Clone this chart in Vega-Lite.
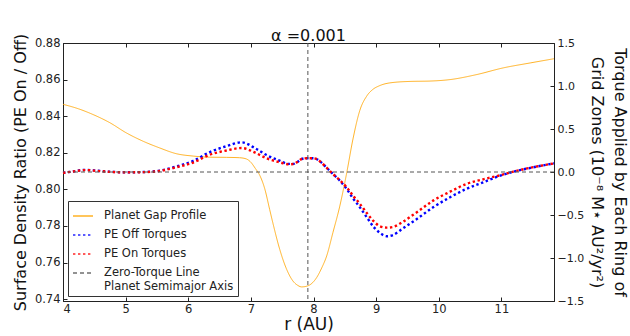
{
  "$schema": "https://vega.github.io/schema/vega-lite/v6.json",
  "width": 491,
  "height": 258,
  "autosize": {"type": "none"},
  "padding": {"left": 63, "top": 43, "right": 76, "bottom": 35},
  "title": {"text": "α =0.001", "font": "DejaVu Sans", "fontSize": 16, "fontWeight": "normal", "color": "#111", "offset": -11},
  "config": {
    "font": "DejaVu Sans",
    "view": {"stroke": "#222", "strokeWidth": 1},
    "axis": {"grid": false, "domainColor": "#222", "tickColor": "#222", "labelColor": "#222", "titleColor": "#111", "labelFont": "DejaVu Sans", "titleFont": "DejaVu Sans", "titleFontWeight": "normal", "labelFontSize": 11.5, "titleFontSize": 16, "tickSize": -4},
    "legend": {"orient": "bottom-left", "offset": 5, "strokeColor": "#333", "fillColor": "white", "padding": 4, "labelFont": "DejaVu Sans", "labelFontSize": 11.5, "labelColor": "#222", "symbolType": "stroke", "symbolSize": 400, "symbolStrokeWidth": 1.6, "labelOffset": 10, "rowPadding": 2}
  },
  "resolve": {"scale": {"y": "independent"}, "axis": {"x": "independent"}},
  "layer": [
    {
      "data": {"values": [
        {"series": "Planet Gap Profile", "r": 4.00, "v": 0.8465},
        {"series": "Planet Gap Profile", "r": 4.25, "v": 0.8440},
        {"series": "Planet Gap Profile", "r": 4.48, "v": 0.8409},
        {"series": "Planet Gap Profile", "r": 4.75, "v": 0.8364},
        {"series": "Planet Gap Profile", "r": 5.01, "v": 0.8309},
        {"series": "Planet Gap Profile", "r": 5.28, "v": 0.8263},
        {"series": "Planet Gap Profile", "r": 5.54, "v": 0.8227},
        {"series": "Planet Gap Profile", "r": 5.81, "v": 0.8195},
        {"series": "Planet Gap Profile", "r": 6.08, "v": 0.8182},
        {"series": "Planet Gap Profile", "r": 6.34, "v": 0.8176},
        {"series": "Planet Gap Profile", "r": 6.61, "v": 0.8175},
        {"series": "Planet Gap Profile", "r": 6.82, "v": 0.8173},
        {"series": "Planet Gap Profile", "r": 6.93, "v": 0.8166},
        {"series": "Planet Gap Profile", "r": 7.00, "v": 0.8148},
        {"series": "Planet Gap Profile", "r": 7.07, "v": 0.8115},
        {"series": "Planet Gap Profile", "r": 7.14, "v": 0.8078},
        {"series": "Planet Gap Profile", "r": 7.22, "v": 0.8005},
        {"series": "Planet Gap Profile", "r": 7.30, "v": 0.7890},
        {"series": "Planet Gap Profile", "r": 7.35, "v": 0.7818},
        {"series": "Planet Gap Profile", "r": 7.46, "v": 0.7673},
        {"series": "Planet Gap Profile", "r": 7.57, "v": 0.7564},
        {"series": "Planet Gap Profile", "r": 7.67, "v": 0.7500},
        {"series": "Planet Gap Profile", "r": 7.75, "v": 0.7475},
        {"series": "Planet Gap Profile", "r": 7.81, "v": 0.7467},
        {"series": "Planet Gap Profile", "r": 7.91, "v": 0.7473},
        {"series": "Planet Gap Profile", "r": 8.05, "v": 0.7518},
        {"series": "Planet Gap Profile", "r": 8.13, "v": 0.7570},
        {"series": "Planet Gap Profile", "r": 8.21, "v": 0.7636},
        {"series": "Planet Gap Profile", "r": 8.31, "v": 0.7764},
        {"series": "Planet Gap Profile", "r": 8.42, "v": 0.7909},
        {"series": "Planet Gap Profile", "r": 8.53, "v": 0.8090},
        {"series": "Planet Gap Profile", "r": 8.63, "v": 0.8275},
        {"series": "Planet Gap Profile", "r": 8.74, "v": 0.8432},
        {"series": "Planet Gap Profile", "r": 8.85, "v": 0.8510},
        {"series": "Planet Gap Profile", "r": 8.95, "v": 0.8547},
        {"series": "Planet Gap Profile", "r": 9.05, "v": 0.8566},
        {"series": "Planet Gap Profile", "r": 9.22, "v": 0.8582},
        {"series": "Planet Gap Profile", "r": 9.54, "v": 0.8590},
        {"series": "Planet Gap Profile", "r": 9.86, "v": 0.8592},
        {"series": "Planet Gap Profile", "r": 10.18, "v": 0.8600},
        {"series": "Planet Gap Profile", "r": 10.60, "v": 0.8627},
        {"series": "Planet Gap Profile", "r": 11.03, "v": 0.8664},
        {"series": "Planet Gap Profile", "r": 11.46, "v": 0.8691},
        {"series": "Planet Gap Profile", "r": 11.84, "v": 0.8714}
      ]},
      "mark": {"type": "line", "interpolate": "monotone", "opacity": 0.85, "strokeWidth": 1},
      "encoding": {
        "x": {"field": "r", "type": "quantitative", "scale": {"domain": [4, 11.84], "nice": false, "zero": false},
              "axis": {"orient": "bottom", "values": [4,5,6,7,8,9,10,11], "format": "d", "title": "r (AU)", "labelPadding": 6, "titlePadding": 2, "titleFontSize": 17}},
        "y": {"field": "v", "type": "quantitative", "scale": {"domain": [0.739, 0.88], "nice": false, "zero": false},
              "axis": {"orient": "left", "values": [0.74,0.76,0.78,0.80,0.82,0.84,0.86,0.88], "format": ".2f", "title": "Surface Density Ratio (PE On / Off)", "labelPadding": 7, "titlePadding": 6}},
        "color": {"field": "series", "type": "nominal", "title": null,
                  "scale": {"domain": ["Planet Gap Profile", "PE Off Torques", "PE On Torques", "Zero-Torque Line"], "range": ["#ffa500", "#0000ff", "#ff0000", "#555555"]},
                  "legend": {"labelExpr": "datum.label == 'Zero-Torque Line' ? ['Zero-Torque Line', 'Planet Semimajor Axis'] : datum.label"}},
        "strokeDash": {"field": "series", "type": "nominal", "title": null,
                  "scale": {"domain": ["Planet Gap Profile", "PE Off Torques", "PE On Torques", "Zero-Torque Line"], "range": [[1,0], [2.4,2.6], [2.4,2.6], [4,3]]}}
      }
    },
    {
      "layer": [
        {
          "data": {"values": [
            {"series": "PE Off Torques", "r": 4.00, "t": -0.01},
            {"series": "PE Off Torques", "r": 4.15, "t": 0.005},
            {"series": "PE Off Torques", "r": 4.35, "t": 0.025},
            {"series": "PE Off Torques", "r": 4.55, "t": 0.015},
            {"series": "PE Off Torques", "r": 4.75, "t": 0.003},
            {"series": "PE Off Torques", "r": 5.00, "t": -0.003},
            {"series": "PE Off Torques", "r": 5.28, "t": 0.0},
            {"series": "PE Off Torques", "r": 5.54, "t": 0.015},
            {"series": "PE Off Torques", "r": 5.81, "t": 0.065},
            {"series": "PE Off Torques", "r": 6.08, "t": 0.13},
            {"series": "PE Off Torques", "r": 6.34, "t": 0.23},
            {"series": "PE Off Torques", "r": 6.61, "t": 0.30},
            {"series": "PE Off Torques", "r": 6.85, "t": 0.345},
            {"series": "PE Off Torques", "r": 7.09, "t": 0.267},
            {"series": "PE Off Torques", "r": 7.25, "t": 0.197},
            {"series": "PE Off Torques", "r": 7.46, "t": 0.131},
            {"series": "PE Off Torques", "r": 7.60, "t": 0.095},
            {"series": "PE Off Torques", "r": 7.68, "t": 0.095},
            {"series": "PE Off Torques", "r": 7.75, "t": 0.12},
            {"series": "PE Off Torques", "r": 7.81, "t": 0.151},
            {"series": "PE Off Torques", "r": 7.89, "t": 0.16},
            {"series": "PE Off Torques", "r": 7.99, "t": 0.16},
            {"series": "PE Off Torques", "r": 8.07, "t": 0.143},
            {"series": "PE Off Torques", "r": 8.15, "t": 0.093},
            {"series": "PE Off Torques", "r": 8.23, "t": 0.035},
            {"series": "PE Off Torques", "r": 8.31, "t": -0.023},
            {"series": "PE Off Torques", "r": 8.42, "t": -0.10},
            {"series": "PE Off Torques", "r": 8.53, "t": -0.197},
            {"series": "PE Off Torques", "r": 8.63, "t": -0.306},
            {"series": "PE Off Torques", "r": 8.74, "t": -0.41},
            {"series": "PE Off Torques", "r": 8.85, "t": -0.526},
            {"series": "PE Off Torques", "r": 8.95, "t": -0.63},
            {"series": "PE Off Torques", "r": 9.06, "t": -0.708},
            {"series": "PE Off Torques", "r": 9.17, "t": -0.747},
            {"series": "PE Off Torques", "r": 9.27, "t": -0.732},
            {"series": "PE Off Torques", "r": 9.43, "t": -0.654},
            {"series": "PE Off Torques", "r": 9.65, "t": -0.546},
            {"series": "PE Off Torques", "r": 9.91, "t": -0.41},
            {"series": "PE Off Torques", "r": 10.18, "t": -0.294},
            {"series": "PE Off Torques", "r": 10.44, "t": -0.197},
            {"series": "PE Off Torques", "r": 10.71, "t": -0.12},
            {"series": "PE Off Torques", "r": 10.98, "t": -0.043},
            {"series": "PE Off Torques", "r": 11.19, "t": 0.003},
            {"series": "PE Off Torques", "r": 11.51, "t": 0.055},
            {"series": "PE Off Torques", "r": 11.84, "t": 0.10},
            {"series": "PE On Torques", "r": 4.00, "t": -0.01},
            {"series": "PE On Torques", "r": 4.15, "t": 0.005},
            {"series": "PE On Torques", "r": 4.35, "t": 0.022},
            {"series": "PE On Torques", "r": 4.55, "t": 0.013},
            {"series": "PE On Torques", "r": 4.75, "t": 0.002},
            {"series": "PE On Torques", "r": 5.00, "t": -0.004},
            {"series": "PE On Torques", "r": 5.28, "t": -0.002},
            {"series": "PE On Torques", "r": 5.54, "t": 0.012},
            {"series": "PE On Torques", "r": 5.81, "t": 0.055},
            {"series": "PE On Torques", "r": 6.08, "t": 0.11},
            {"series": "PE On Torques", "r": 6.34, "t": 0.20},
            {"series": "PE On Torques", "r": 6.61, "t": 0.25},
            {"series": "PE On Torques", "r": 6.85, "t": 0.279},
            {"series": "PE On Torques", "r": 7.09, "t": 0.217},
            {"series": "PE On Torques", "r": 7.25, "t": 0.159},
            {"series": "PE On Torques", "r": 7.46, "t": 0.113},
            {"series": "PE On Torques", "r": 7.60, "t": 0.09},
            {"series": "PE On Torques", "r": 7.68, "t": 0.093},
            {"series": "PE On Torques", "r": 7.75, "t": 0.12},
            {"series": "PE On Torques", "r": 7.81, "t": 0.151},
            {"series": "PE On Torques", "r": 7.89, "t": 0.16},
            {"series": "PE On Torques", "r": 7.99, "t": 0.16},
            {"series": "PE On Torques", "r": 8.07, "t": 0.143},
            {"series": "PE On Torques", "r": 8.15, "t": 0.093},
            {"series": "PE On Torques", "r": 8.23, "t": 0.035},
            {"series": "PE On Torques", "r": 8.31, "t": -0.023},
            {"series": "PE On Torques", "r": 8.42, "t": -0.095},
            {"series": "PE On Torques", "r": 8.53, "t": -0.178},
            {"series": "PE On Torques", "r": 8.63, "t": -0.275},
            {"series": "PE On Torques", "r": 8.74, "t": -0.37},
            {"series": "PE On Torques", "r": 8.85, "t": -0.476},
            {"series": "PE On Torques", "r": 8.95, "t": -0.565},
            {"series": "PE On Torques", "r": 9.06, "t": -0.63},
            {"series": "PE On Torques", "r": 9.17, "t": -0.647},
            {"series": "PE On Torques", "r": 9.27, "t": -0.639},
            {"series": "PE On Torques", "r": 9.43, "t": -0.577},
            {"series": "PE On Torques", "r": 9.65, "t": -0.468},
            {"series": "PE On Torques", "r": 9.91, "t": -0.333},
            {"series": "PE On Torques", "r": 10.18, "t": -0.229},
            {"series": "PE On Torques", "r": 10.44, "t": -0.139},
            {"series": "PE On Torques", "r": 10.71, "t": -0.085},
            {"series": "PE On Torques", "r": 10.98, "t": -0.038},
            {"series": "PE On Torques", "r": 11.19, "t": 0.004},
            {"series": "PE On Torques", "r": 11.51, "t": 0.056},
            {"series": "PE On Torques", "r": 11.84, "t": 0.10}
          ]},
          "mark": {"type": "line", "interpolate": "monotone", "strokeWidth": 2.4},
          "encoding": {
            "x": {"field": "r", "type": "quantitative", "axis": {"orient": "top", "values": [4,5,6,7,8,9,10,11], "labels": false, "title": null, "domain": false}},
            "y": {"field": "t", "type": "quantitative", "scale": {"domain": [-1.5, 1.5], "nice": false},
                  "axis": {"orient": "right", "values": [-1.5,-1,-0.5,0,0.5,1,1.5], "format": ".1f", "labelFontSize": 11, "labelPadding": 7, "titlePadding": 5, "titleLineHeight": 23,
                           "title": ["Torque Applied by Each Ring of", "Grid Zones (10⁻⁸ M⋆ AU²/yr²)"]}},
            "color": {"field": "series", "type": "nominal"},
            "strokeDash": {"field": "series", "type": "nominal"}
          }
        },
        {
          "data": {"values": [{"series": "Zero-Torque Line", "t": 0}]},
          "mark": {"type": "rule", "strokeWidth": 1},
          "encoding": {
            "y": {"field": "t", "type": "quantitative"},
            "color": {"field": "series", "type": "nominal"},
            "strokeDash": {"field": "series", "type": "nominal"}
          }
        },
        {
          "data": {"values": [{"r": 7.91}]},
          "mark": {"type": "rule", "color": "#555555", "strokeDash": [4, 3], "strokeWidth": 1},
          "encoding": {
            "x": {"field": "r", "type": "quantitative"}
          }
        }
      ]
    }
  ]
}
